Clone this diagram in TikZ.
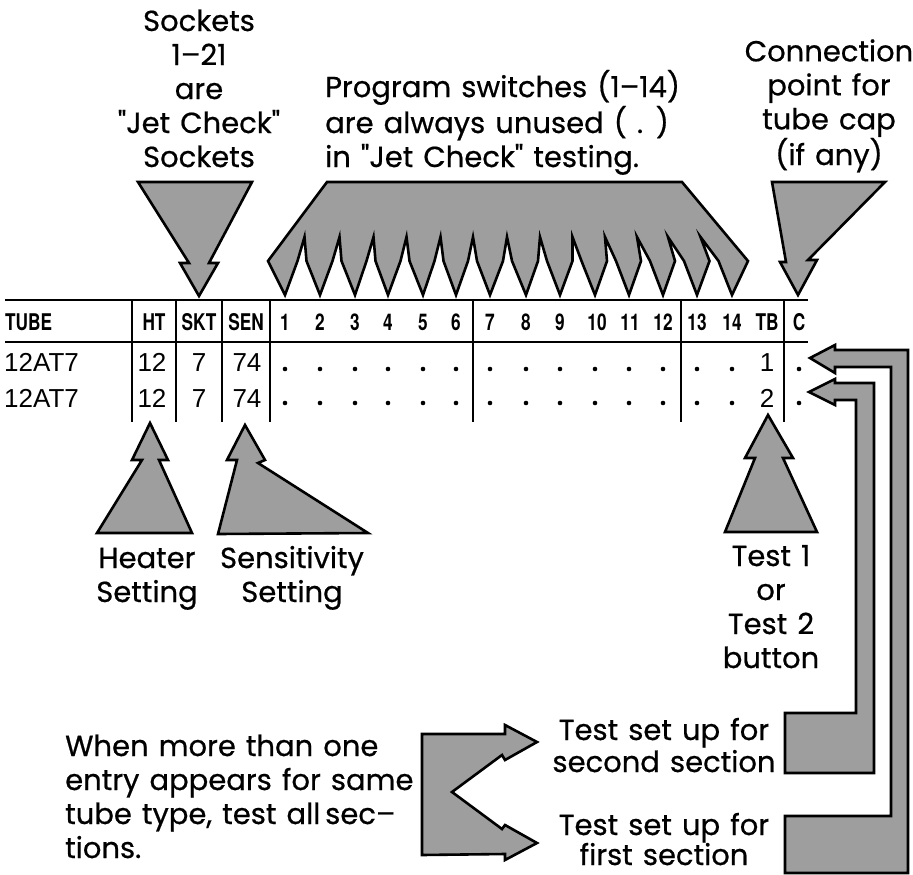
\documentclass[tikz,border=0pt]{standalone}
\usepackage{fontspec}
\newfontfamily\notefont[FakeBold=0.6,WordSpace=1.3]{Poppins}
\newfontfamily\hdrfont[FakeStretch=0.75]{TeX Gyre Heros}
\newfontfamily\datafont{Liberation Sans}
\definecolor{shade}{gray}{0.62}
\begin{document}
\begin{tikzpicture}[x=1pt,y=-1pt,
  grayshape/.style={draw=black,fill=shade,line width=2.6pt,line join=miter},
  notetext/.style={font=\notefont\fontsize{29}{34}\selectfont,inner sep=0pt,align=center,anchor=base},
  hdr/.style={font=\hdrfont\bfseries\fontsize{23}{23}\selectfont,inner sep=0pt,anchor=base},
  dat/.style={font=\datafont\fontsize{26}{26}\selectfont,inner sep=0pt,anchor=base},
  hline/.style={line width=2.6pt},
  vline/.style={line width=2pt}]
\useasboundingbox (0,0) rectangle (913,875);

% ---------- annotations (text; anchor = baseline of last line) ----------
\node[notetext] (sockets) at (199,167) {Sockets\\1–21\\are\\"Jet Check"\\Sockets};
\node[notetext,align=left,anchor=base west] (program) at (325,167)
  {Program switches (1–14)\\are always unused ( . )\\in "Jet Check" testing.};
\node[notetext] (connection) at (829,165) {Connection\\point for\\tube cap\\(if any)};
\node[notetext] (heater) at (147,602) {Heater\\Setting};
\node[notetext] (sensitivity) at (292,602) {Sensitivity\\Setting};
\node[notetext] (testbtn) at (771,668) {Test 1\\or\\Test 2\\button};
\node[notetext,align=left,anchor=base west] (when) at (65,858)
  {When more than one\\entry appears for same\\tube type, test all\,sec–\\tions.};
\node[notetext,font=\notefont\fontsize{29}{32}\selectfont] (set2) at (664,772) {Test set up for\\second section};
\node[notetext,font=\notefont\fontsize{29}{30}\selectfont] (set1) at (664,865) {Test set up for\\first section};

% ---------- gray pointer shapes ----------
% sockets arrow
\draw[grayshape] (138,182) -- (252,182) -- (209,263) -- (218,263) -- (199,296)
  -- (180,263) -- (189,263) -- cycle;
% program switches comb arrow
\draw[grayshape] (327,182) -- (682,182) -- (748,261) -- (732,295)
  \foreach \n/\l/\t in {714.5/-14/697, 680/-12/663, 646/-9/629, 612/-7/595,
      577.5/-5/560, 543/-3/526, 508/-1/490, 473/0/456, 439.5/1/423,
      405.5/1/388, 371.5/2/355, 337.5/2/320, 302.5/2/285}
  { -- (\n+4,261) -- (\n+\l,237) -- (\n-5,261) -- (\t,295) }
  -- (268,261) -- cycle;
% tube cap arrow
\draw[grayshape] (772,182) -- (885,182) -- (808,260) -- (817,260) -- (798,295)
  -- (780,262) -- (786,262) -- cycle;
% heater arrow
\draw[grayshape] (150,423) -- (168,460) -- (159,460) -- (192,533) -- (97,533)
  -- (142,460) -- (132,460) -- cycle;
% sensitivity arrow
\draw[grayshape] (245,425) -- (265,460) -- (258,463) -- (368,533) -- (218,534)
  -- (237,460) -- (227,460) -- cycle;
% test button arrow
\draw[grayshape] (768,415) -- (793,458) -- (783,458) -- (817,532) -- (725,532)
  -- (755,458) -- (745,458) -- cycle;
% outer L arrow (first section)
\draw[grayshape] (810,358) -- (835,345) -- (835,350) -- (908,350) -- (908,873)
  -- (785,873) -- (785,816) -- (891,816) -- (891,367) -- (835,367) -- (835,373) -- cycle;
% inner L arrow (second section)
\draw[grayshape] (809,392) -- (835,379) -- (835,383) -- (874,383) -- (874,773)
  -- (785,773) -- (785,713) -- (856,713) -- (856,400) -- (835,400) -- (835,405) -- cycle;
% split arrow
\draw[grayshape] (422,734) -- (505,734) -- (505,725) -- (537,742) -- (505,760)
  -- (502,755) -- (452,792) -- (502,829) -- (505,825) -- (537,843) -- (505,860)
  -- (505,854) -- (422,855) -- cycle;

% ---------- table ----------
\draw[hline] (5,300) -- (808,300);
\draw[hline] (5,342) -- (808,342);
\foreach \x in {132,176,222,270,473,681,784}
  \draw[vline] (\x,301) -- (\x,422);

\node[hdr,anchor=base west] (hTUBE) at (5,330) {TUBE};
\node[hdr] (hHT) at (154,330) {HT};
\node[hdr] (hSKT) at (199,330) {SKT};
\node[hdr] (hSEN) at (246,330) {SEN};
\foreach \x/\lab in {285/1,320/2,355/3,388/4,423/5,456/6,490/7,526/8,560/9,
    597/10,630/11,663/12,697/13,732/14,767/TB,799/C}
  \node[hdr] (h\lab) at (\x,330) {\lab};

\foreach \r/\y/\d/\tb in {1/371/369/1,2/407/403/2}{
  \node[dat,anchor=base west] (tube\r) at (4,\y) {12AT7};
  \node[dat] (ht\r) at (152,\y) {12};
  \node[dat] (skt\r) at (199,\y) {7};
  \node[dat] (sen\r) at (247,\y) {74};
  \node[dat] (tb\r) at (767,\y) {\tb};
  \foreach \x in {285,320,355,388,423,456,490,526,560,595,629,663,697,732,799}
    \fill (\x,\d) circle (2.3);
}
\end{tikzpicture}
\end{document}
